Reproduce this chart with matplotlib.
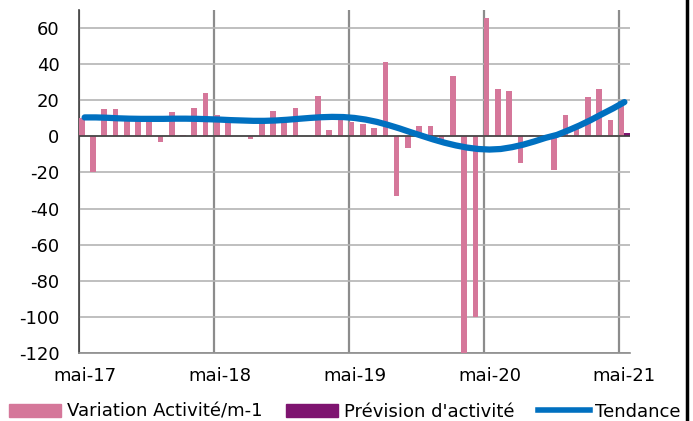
import numpy as np
import matplotlib.pyplot as plt
from matplotlib.patches import Patch
from matplotlib.lines import Line2D

plt.rcParams['font.family'] = ['DejaVu Sans']
plt.rcParams['axes.unicode_minus'] = False

# monthly data, mai-17 .. mai-21 (49 months)
variation = [10, -20, 15, 15.3, 9, 9, 9, -3, 13.4, 1, 15.8, 24,
             11.6, 8, 0.3, -1.3, 8, 13.8, 8, 15.8, 0, 22.5, 3.7, 12.5,
             8, 7, 4.4, 41.4, -33, -6.3, 5.9, 6, -2.2, 33.7, -120, -100,
             65.4, 26, 25, -14.7, 1, 0, -18.4, 11.6, 5, 21.9, 26.5, 8.8,
             19]
prevision = [0] * 48 + [2]
tendance = [10.5, 10.5, 10.3, 10.0, 9.8, 9.7, 9.7, 9.7, 9.8, 9.8, 9.7, 9.5,
            9.3, 9.0, 8.8, 8.6, 8.6, 8.8, 9.2, 9.7, 10.2, 10.6, 10.8, 10.7,
            10.2, 9.3, 8.0, 6.3, 4.4, 2.3, 0.3, -1.7, -3.5, -5.0, -6.2, -7.0,
            -7.3, -7.0, -6.0, -4.6, -2.8, -0.8, 0.8, 3.3, 6.0, 9.0, 12.3, 15.5,
            19.0]
tick_labels = ['mai-17', 'mai-18', 'mai-19', 'mai-20', 'mai-21']

pink = '#D5779A'
purple = '#7E1470'
blue = '#0070C0'
fs = 13

fig = plt.figure(figsize=(6.93, 4.21), dpi=100)
ax = fig.add_axes([79/693, 1-353/421, (630-79)/693, (353-10)/421])

x = np.arange(len(variation))
ax.bar(x, variation, width=0.5, align='edge', color=pink, zorder=3)
ax.bar(x + 0.5, prevision, width=0.5, align='edge', color=purple, zorder=3)
ax.plot(x + 0.5, tendance, color=blue, lw=4.5, solid_capstyle='round', zorder=5)

ax.set_xlim(0, 49)
ax.set_ylim(-120, 70)
ax.set_yticks(np.arange(-120, 61, 20))
ax.set_xticks([0, 12, 24, 36, 48])
ax.set_xticklabels([])
for i, lab in zip([0, 12, 24, 36, 48], tick_labels):
    ax.text(i + 0.5, -128, lab, ha='center', va='top', fontsize=fs)

ax.yaxis.grid(True, color='#B4B4B4', lw=1.2, zorder=0)
ax.xaxis.grid(True, color='#8C8C8C', lw=1.6, zorder=1)
ax.axhline(0, color='#404040', lw=1.2, zorder=4)
ax.tick_params(axis='both', length=0, labelsize=fs)
ax.tick_params(axis='y', pad=14)
for s in ['top', 'right']:
    ax.spines[s].set_visible(False)
ax.spines['left'].set_color('#404040')
ax.spines['left'].set_linewidth(1.2)
ax.spines['bottom'].set_color('#8C8C8C')
ax.spines['bottom'].set_linewidth(1.2)

handles = [Patch(color=pink), Patch(color=purple), Line2D([], [], color=blue, lw=4)]
labels = ['Variation Activité/m-1', "Prévision d'activité", 'Tendance']
fig.legend(handles, labels, loc='center left', bbox_to_anchor=(0.0, 0.022),
           ncol=3, frameon=False, fontsize=fs, handlelength=2.9,
           handleheight=0.7, handletextpad=0.3, columnspacing=1.3, borderpad=0)

fig.add_artist(Line2D([687/693, 687/693], [0, 1], color='black', lw=2.5))

fig.savefig('out.png', dpi=100)
